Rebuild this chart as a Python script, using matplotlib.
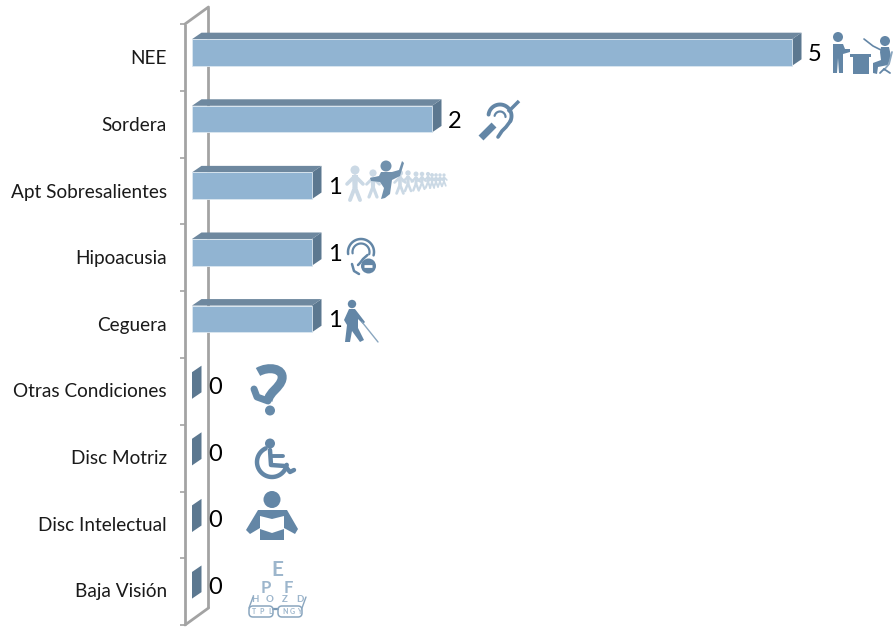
import numpy as np
import matplotlib
matplotlib.use('Agg')
import matplotlib.pyplot as plt
from matplotlib.patches import Polygon, Circle, Rectangle, PathPatch, FancyBboxPatch
from matplotlib.path import Path
from matplotlib.transforms import Affine2D

# Datos
categorias = ['NEE', 'Sordera', 'Apt Sobresalientes', 'Hipoacusia', 'Ceguera',
              'Otras Condiciones', 'Disc Motriz', 'Disc Intelectual', 'Baja Visión']
valores = [5, 2, 1, 1, 1, 0, 0, 0, 0]

W, H = 895, 627
plt.rcParams['font.family'] = ['Lato', 'DejaVu Sans']

fig = plt.figure(figsize=(W / 100, H / 100), dpi=100)
ax = fig.add_axes([0, 0, 1, 1])

# escala: cada unidad son 120 px, cada categoria 66.6 px
X0, UX = 192, 120
Y0, UY = 52.5, 66.6
ax.set_xlim(-X0 / UX, (W - X0) / UX)
ax.set_ylim((H - Y0) / UY, -Y0 / UY)
ax.axis('off')

# capa en pixeles para ejes e iconos
px = Affine2D().scale(1 / W, -1 / H).translate(0, 1) + fig.transFigure

AZUL = '#6386a6'
GRIS = '#a3a3a3'
FRENTE = '#91b4d2'
TECHO = '#6e889f'
LADO = '#5c7890'
DX, DY = 9.5 / UX, 6.5 / UY
ALTO = 0.2


def linea(xs, ys, color=AZUL, lw=2.0, z=5, cap='round'):
    ax.plot(xs, ys, color=color, lw=lw, transform=px, zorder=z,
            solid_capstyle=cap, clip_on=False)


def circulo(x, y, r, color=AZUL, z=5):
    ax.add_patch(Circle((x, y), r, fc=color, ec='none', transform=px, zorder=z))


def poli(pts, color=AZUL, z=5):
    ax.add_patch(Polygon(pts, closed=True, fc=color, ec='none', transform=px, zorder=z))


def arco(x, y, r, t1, t2, color=AZUL, lw=2.0, z=5):
    t = np.radians(np.arange(t1, t2 + 1, 3))
    linea(x + r * np.cos(t), y - r * np.sin(t), color=color, lw=lw, z=z)


# pared del eje
linea([208.5, 208.5], [7, 608], color=GRIS, lw=2.0, z=1, cap='butt')
linea([185, 185], [24, 625], color=GRIS, lw=2.0, z=1, cap='butt')
linea([185, 208.5], [24, 7], color=GRIS, lw=2.0, z=1)
linea([185, 208.5], [625, 608], color=GRIS, lw=2.0, z=1)
for i in range(len(categorias) + 1):
    ty = 24 + i * 66.8
    linea([180, 185], [ty, ty], color=GRIS, lw=1.2, z=1, cap='butt')

# barras con efecto 3D
for i, (cat, v) in enumerate(zip(categorias, valores)):
    ax.add_patch(Polygon([(v, i - ALTO), (v + DX, i - ALTO - DY), (v + DX, i + ALTO - DY), (v, i + ALTO)],
                         closed=True, fc=LADO, ec='none', zorder=3))
    if v > 0:
        ax.add_patch(Polygon([(0, i - ALTO), (DX, i - ALTO - DY), (v + DX, i - ALTO - DY), (v, i - ALTO)],
                             closed=True, fc=TECHO, ec='none', zorder=3))
        ax.add_patch(Rectangle((0, i - ALTO), v, 2 * ALTO, fc=FRENTE, ec='#dce8f1', lw=0.6, zorder=4))
    ax.text(v + 23 / UX, i + 2 / UY, str(v), fontsize=17, color='black', ha='center', va='center', zorder=6)
    ax.text(-25 / UX, i + 6.5 / UY, cat, fontsize=13.7, color='#1a1a1a', ha='right', va='center', zorder=6)

# --- iconos ---
# NEE: maestro y alumno
circulo(838, 37, 5)
poli([(833, 44), (843, 44), (845, 49), (850, 49), (850, 52), (843, 54), (843, 73), (839, 73), (838, 58), (837, 73), (833, 73)])
poli([(850, 54), (871, 54), (871, 57), (869, 57), (869, 74), (853, 74), (853, 57), (850, 57)])
circulo(885, 41, 5)
poli([(881, 47), (889, 47), (891, 56), (888, 65), (878, 67), (877, 74), (873, 73), (873, 63), (881, 60), (880, 52)])
linea([864, 873, 881], [39, 46, 50], lw=1.2)
linea([892, 889, 884], [52, 64, 70], lw=1.3, color='#8aa6bf')
linea([884, 880], [69, 73], lw=1.3)
linea([884, 890], [69, 73], lw=1.3)

# Sordera
linea([481, 494], [138, 125], lw=5, cap='butt')
linea([508, 519], [112, 101], lw=2.5, cap='butt')
arco(500, 116, 11.5, -25, 175, lw=2.8)
arco(500, 117, 5.5, 0, 170, lw=1.6)
linea([510.5, 506, 502, 498], [121, 127, 131, 137], lw=2.6)

# Apt Sobresalientes: fila de figuras
COL_FIG = '#cbd9e5'
figs_x = [355, 373, 400, 408, 416, 422, 428, 432, 436, 440, 444]
figs_y = [170, 173, 173, 173, 174, 174, 174, 175, 175, 175, 175]
figs_s = [1.0, 0.8, 0.68, 0.6, 0.55, 0.5, 0.46, 0.43, 0.4, 0.38, 0.36]
for fx, fy, fs in zip(figs_x, figs_y, figs_s):
    circulo(fx, fy, 4.5 * fs, color=COL_FIG)
    poli([(fx - 3 * fs, fy + 5 * fs), (fx + 3 * fs, fy + 5 * fs), (fx + 2.5 * fs, fy + 18 * fs), (fx - 2.5 * fs, fy + 18 * fs)],
         color=COL_FIG)
    linea([fx - 8 * fs, fx, fx + 8 * fs], [fy + 14 * fs, fy + 6 * fs, fy + 14 * fs], color=COL_FIG, lw=2.2 * fs + 0.4)
    linea([fx - 5 * fs, fx, fx + 5 * fs], [fy + 30 * fs, fy + 17 * fs, fy + 30 * fs], color=COL_FIG, lw=2.4 * fs + 0.4)
circulo(386, 166, 5.5, color='#7191ad', z=6)
poli([(381, 172), (392, 172), (399, 170), (402, 161), (404, 163), (400, 176), (392, 180), (390, 194), (385, 198),
      (381, 199), (384, 188), (380, 182), (371, 181), (370, 178), (379, 176)], color='#7191ad', z=6)

# Hipoacusia
arco(361, 252, 13, -15, 190, lw=1.8)
arco(361, 252, 8.5, -15, 190, lw=1.6)
linea([367.5, 363, 360, 358], [255, 259, 263, 265], lw=1.8)
linea([352, 354, 359], [264, 271, 274], lw=1.8)
circulo(368.5, 266, 7.5)
linea([364.5, 372.5], [266, 266], color='white', lw=2, z=6, cap='butt')

# Ceguera
circulo(352, 304, 4.2)
poli([(349, 309), (355, 309), (365, 322), (363, 324), (358, 319), (358, 328), (364, 340), (360, 342), (352, 331),
      (350, 342), (345, 342), (347, 325), (344, 320)])
linea([362, 378], [322, 342], color='#8aa6bf', lw=1.0)

# Otras Condiciones: interrogacion
codes = [Path.MOVETO, Path.CURVE4, Path.CURVE4, Path.CURVE4, Path.CURVE4, Path.CURVE4, Path.CURVE4]
ax.add_patch(PathPatch(Path([(258, 372), (268, 366), (284, 368), (282, 379), (280, 388), (269, 392), (268, 401)], codes),
                       fc='none', ec='#668aa9', lw=6.5, transform=px, zorder=5, capstyle='butt'))
linea([254, 257, 268], [389, 397, 401], color='#668aa9', lw=5)
circulo(270, 410.5, 5, color='#668aa9')

# Disc Motriz
circulo(270, 443.5, 5)
linea([270, 271, 285, 290, 294], [450, 465, 466, 472, 470], lw=3.2)
linea([271, 283], [456, 456], lw=2.8)
arco(272, 462, 15, 115, 350, lw=3.2)

# Disc Intelectual
circulo(272, 499.5, 8.5)
poli([(258, 510), (287, 510), (298, 529), (295, 534), (284, 528), (284, 540), (260, 540), (260, 528), (250, 534),
      (246, 530)])
poli([(260, 516), (272, 519), (284, 516), (284, 529), (272, 533), (260, 529)], color='white', z=6)

# Baja Vision: cartilla y gafas
COL_CARTA = '#9db6cc'
for letra, lx, ly, tam in [('E', 277, 570, 15), ('P', 266, 588, 12), ('F', 288, 588, 12), ('H', 255, 600, 7),
                           ('O', 270, 600, 7), ('Z', 285, 600, 7), ('D', 300, 600, 7), ('T', 254, 612, 5),
                           ('P', 262, 612, 5), ('L', 270, 612, 5), ('N', 285, 612, 5), ('G', 292, 612, 5),
                           ('Y', 299, 612, 5)]:
    ax.text(lx, ly, letra, transform=px, fontsize=tam, color=COL_CARTA, ha='center', va='center',
            fontweight='bold', zorder=5)
for gx in (249, 278):
    ax.add_patch(FancyBboxPatch((gx, 606), 24, 11, boxstyle='round,pad=0,rounding_size=4', fc='none',
                                ec='#8aa6bf', lw=1.1, transform=px, zorder=6))
linea([273, 278], [609, 609], color='#7b9ab5', lw=1.6)
linea([249, 253], [608, 597], color='#8aa6bf', lw=1)
linea([302, 306], [608, 597], color='#8aa6bf', lw=1)

fig.savefig('out.png', dpi=100, facecolor='white')
